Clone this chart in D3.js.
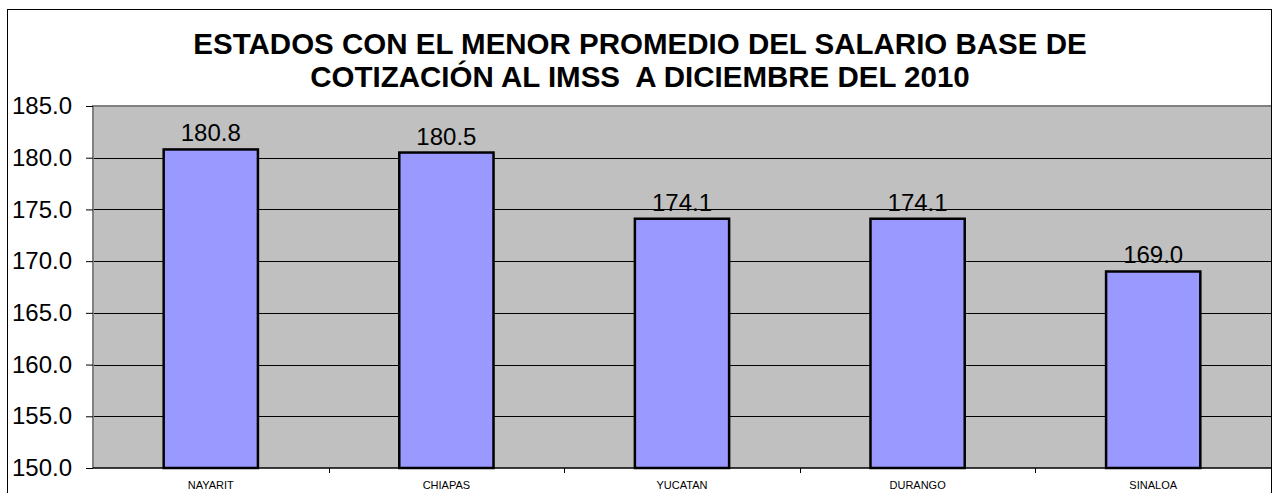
<!DOCTYPE html>
<html>
<head>
<meta charset="utf-8">
<script src="https://cdn.jsdelivr.net/npm/d3@7"></script>
<style>
  body { margin: 0; background: #fff; }
  svg { display: block; font-family: Arial, "Liberation Sans", sans-serif; }
</style>
</head>
<body>
<svg id="chart" width="1274" height="493"></svg>
<script>
// data
var estados = ["NAYARIT", "CHIAPAS", "YUCATAN", "DURANGO", "SINALOA"];
var salario = [180.8, 180.5, 174.1, 174.1, 169.0];
var yTicks = [150, 155, 160, 165, 170, 175, 180, 185];
var titleLines = ["ESTADOS CON EL MENOR PROMEDIO DEL SALARIO BASE DE",
                  "COTIZACIÓN AL IMSS  A DICIEMBRE DEL 2010"];

var svg = d3.select("#chart");

// layout
var plot_l = 93, plot_r = 1271, plot_t = 106, plot_b = 468;

// outer chart border
svg.append("rect")
  .attr("x", 7.5).attr("y", 9.5)
  .attr("width", 1264).attr("height", 500)
  .attr("fill", "#fff").attr("stroke", "#000").attr("stroke-width", 1);

// scales
var xScale = d3.scaleBand()
  .domain(estados)
  .range([plot_l, plot_r])
  .padding(0);

var yScale = d3.scaleLinear()
  .domain([150, 185])
  .range([plot_b, plot_t]);

// plot background
svg.append("rect")
  .attr("x", plot_l).attr("y", plot_t)
  .attr("width", plot_r - plot_l).attr("height", plot_b - plot_t)
  .attr("fill", "#c0c0c0");

// gridlines
svg.append("g").selectAll("line")
  .data(yTicks.filter(function(t){ return t > 150 && t < 185; }))
  .enter().append("line")
  .attr("x1", plot_l).attr("x2", plot_r)
  .attr("y1", function(d){ return Math.round(yScale(d)) + 0.5; })
  .attr("y2", function(d){ return Math.round(yScale(d)) + 0.5; })
  .attr("stroke", "#000").attr("stroke-width", 1);

// plot border (top + left gray)
svg.append("path")
  .attr("d", "M" + plot_l + "," + plot_b + "V" + plot_t + "H" + plot_r)
  .attr("fill", "none").attr("stroke", "#808080").attr("stroke-width", 2);

// bars
var barW = xScale.bandwidth() * 0.4;
svg.append("g").selectAll("rect")
  .data(salario)
  .enter().append("rect")
  .attr("x", function(d, i){ return xScale(estados[i]) + (xScale.bandwidth() - barW) / 2; })
  .attr("y", function(d){ return yScale(d); })
  .attr("width", barW)
  .attr("height", function(d){ return plot_b - yScale(d); })
  .attr("fill", "#9999ff")
  .attr("stroke", "#000").attr("stroke-width", 2.5);

// value labels
svg.append("g").selectAll("text")
  .data(salario)
  .enter().append("text")
  .attr("x", function(d, i){ return xScale(estados[i]) + xScale.bandwidth() / 2; })
  .attr("y", function(d){ return yScale(d) - 8; })
  .attr("text-anchor", "middle")
  .style("font-size", "24px")
  .text(function(d){ return d.toFixed(1); });

// y axis
var yAxis = svg.append("g")
  .attr("transform", "translate(" + plot_l + ",0)")
  .call(d3.axisLeft(yScale).tickValues(yTicks).tickSize(7).tickPadding(14)
    .tickFormat(function(d){ return d.toFixed(1); }));
yAxis.select(".domain").remove();
yAxis.selectAll("text").style("font-size", "24px").attr("fill", "#000")
  .style("font-family", "Arial, 'Liberation Sans', sans-serif");
yAxis.selectAll("line").attr("stroke", "#000");

// x axis
var xAxis = svg.append("g")
  .attr("transform", "translate(0," + plot_b + ")")
  .call(d3.axisBottom(xScale).tickSize(0).tickPadding(13));
xAxis.select(".domain").attr("stroke", "#000").attr("stroke-width", 1.5)
  .attr("d", "M" + plot_l + ",0H" + plot_r);
xAxis.selectAll("text").style("font-size", "11px").attr("fill", "#000")
  .style("font-family", "Arial, 'Liberation Sans', sans-serif");

// small ticks between categories
svg.append("g").selectAll("line")
  .data(estados.slice(1))
  .enter().append("line")
  .attr("x1", function(d){ return Math.round(xScale(d)) + 0.5; })
  .attr("x2", function(d){ return Math.round(xScale(d)) + 0.5; })
  .attr("y1", plot_b).attr("y2", plot_b + 5)
  .attr("stroke", "#000");

// title
svg.append("g").selectAll("text")
  .data(titleLines)
  .enter().append("text")
  .attr("x", 640)
  .attr("y", function(d, i){ return 54 + i * 33; })
  .attr("text-anchor", "middle")
  .style("white-space", "pre")
  .style("font-size", "29.5px")
  .style("font-weight", "bold")
  .text(function(d){ return d; });
</script>
</body>
</html>
